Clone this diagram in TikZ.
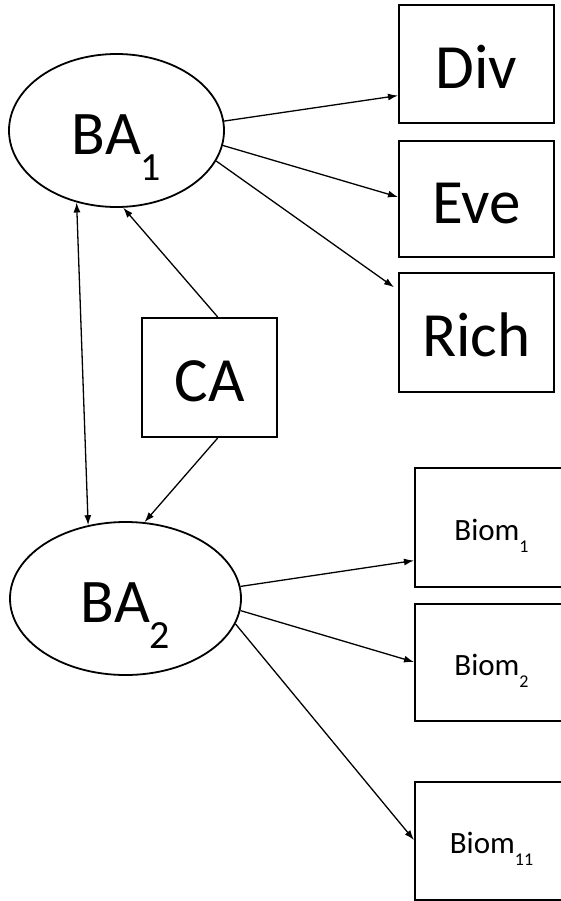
\documentclass[tikz,border=0pt]{standalone}
\usepackage{fontspec}
\setmainfont{Carlito}
\usetikzlibrary{arrows.meta,calc,shapes.geometric}

% lowered index: size, drop, text
\newcommand\lowidx[3]{\raisebox{-#2}{\fontsize{#1}{#1}\selectfont #3}}

\begin{document}
\begin{tikzpicture}[x=1bp,y=-1bp,
  latent/.style={ellipse, draw, line width=1.8bp, inner sep=0pt,
    text height=48bp, text depth=0pt, font=\fontsize{62bp}{62bp}\selectfont},
  bigbox/.style={rectangle, draw, line width=2bp, inner sep=0pt,
    text height=48bp, text depth=0pt, font=\fontsize{63bp}{63bp}\selectfont},
  smallbox/.style={rectangle, draw, line width=2bp, inner sep=0pt,
    minimum width=153bp, text height=25bp, text depth=0pt,
    font=\fontsize{31bp}{31bp}\selectfont},
  conn/.style={-{Latex[length=10bp,width=7bp]}, line width=1.3bp},
  conn2/.style={{Latex[length=10bp,width=7bp]}-{Latex[length=10bp,width=7bp]}, line width=1.3bp}]
\useasboundingbox (0,0) rectangle (561,901);

% latent variables
\node[latent, minimum width=215bp, minimum height=153bp] (ba1) at (116.5,130.5)
  {BA\lowidx{40bp}{26bp}{1}};
\node[latent, minimum width=231bp, minimum height=153bp] (ba2) at (125.5,598.5)
  {BA\lowidx{40bp}{26bp}{2}};

% indicators of BA1
\node[bigbox, minimum width=155bp, minimum height=118bp] (div) at (476.5,64) {Div};
\node[bigbox, minimum width=155bp, minimum height=116bp] (eve) at (476.5,199) {Eve};
\node[bigbox, minimum width=155bp, minimum height=119bp] (rich) at (476.5,332.5) {Rich};

% covariate
\node[bigbox, minimum width=135bp, minimum height=119bp] (ca) at (209.5,377.5) {CA};

% indicators of BA2
\node[smallbox, minimum height=119bp] (biom1) at (491.5,527.5) {Biom\lowidx{18bp}{12bp}{1}};
\node[smallbox, minimum height=117bp] (biom2) at (491.5,662.5) {Biom\lowidx{18bp}{12bp}{2}};
\node[smallbox, minimum height=118bp] (biom11) at (491.5,841) {Biom\lowidx{18bp}{12bp}{11}};

% loadings
\draw[conn] (ba1.5) -- ($(div.south west)!0.237!(div.north west)$);
\draw[conn] (ba1.-8) -- ($(eve.south west)!0.517!(eve.north west)$);
\draw[conn] (ba1.-17) -- ($(rich.south west)!0.874!(rich.north west)+(-4,0)$);

\draw[conn] (ba2.6) -- ($(biom1.south west)!0.227!(biom1.north west)$);
\draw[conn] (ba2.-6) -- ($(biom2.south west)!0.504!(biom2.north west)$);
\draw[conn] (ba2.-13) -- ($(biom11.south west)!0.508!(biom11.north west)$);

% covariate effects and correlation
\draw[conn] ($(ca.north west)!0.56!(ca.north east)$) -- (ba1.-85);
\draw[conn] ($(ca.south west)!0.56!(ca.south east)$) -- (ba2.76);
\draw[conn2] (ba1.-119) -- (ba2.117);
\end{tikzpicture}
\end{document}
